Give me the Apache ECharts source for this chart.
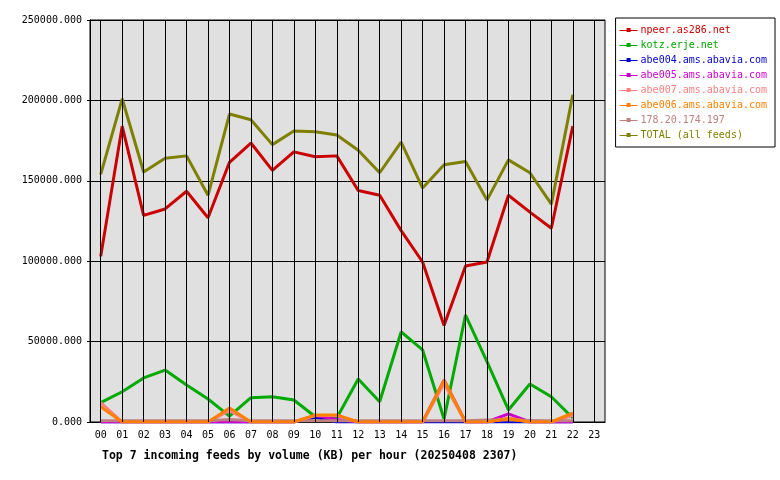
<!DOCTYPE html>
<html><head><meta charset="utf-8">
<script src="https://cdn.jsdelivr.net/npm/echarts@6/dist/echarts.min.js"></script>
<style>html,body{margin:0;background:#fff}#c{width:780px;height:480px}</style>
</head><body><div id="c"></div>
<script>
const hours = ['00','01','02','03','04','05','06','07','08','09','10','11','12','13','14','15','16','17','18','19','20','21','22','23'];
const npeer = [103000,184000,128500,132500,143500,127000,161500,173500,156500,168000,165000,165500,144000,141000,119000,99500,60000,97000,99500,141000,130500,120500,184000];
const kotz = [12000,18800,27400,32300,23000,14300,3700,15100,15700,13700,3300,2500,26700,12600,56000,44800,1900,66500,37500,7500,23600,15700,2500];
const abe004 = [0,0,0,0,0,0,0,0,0,0,3000,0,0,0,0,0,0,0,0,0,0,0,0];
const abe005 = [0,0,0,0,0,0,0,0,0,0,4000,1500,0,0,0,0,26000,0,0,5000,0,0,0];
const abe007 = [12000,0,0,0,0,0,7000,0,0,0,4000,4000,0,0,0,0,24000,0,0,2500,0,0,4000];
const abe006 = [9500,0,0,0,0,0,8700,0,0,0,4400,4400,0,0,0,0,26000,0,0,2000,0,0,5600];
const ip178 = [800,800,800,800,800,800,1500,800,800,800,800,800,800,800,800,800,800,800,1200,1200,1000,800,800];
const total = [154000,201000,155500,164000,165500,141000,191500,188000,172500,181000,180500,178500,169000,155000,174000,145500,160000,162000,138000,163000,155000,135500,203500];
const yTicks = [0,50000,100000,150000,200000,250000];

const names = ['npeer.as286.net','kotz.erje.net','abe004.ams.abavia.com','abe005.ams.abavia.com','abe007.ams.abavia.com','abe006.ams.abavia.com','178.20.174.197','TOTAL (all feeds)'];
const datas = [npeer,kotz,abe004,abe005,abe007,abe006,ip178,total];
const colors = ['#cc0000','#00aa00','#0000cc','#cc00cc','#ff8080','#ff8000','#c08080','#808000'];
const font = 'DejaVu Sans Mono';
const series = names.map((n,i)=>({
  name:n, type:'line', data:datas[i], symbol:'none', z:3+(i===5?1:0),
  lineStyle:{width:3,color:colors[i]}, itemStyle:{color:colors[i]}, animation:false
}));
series.push({type:'line',data:[],silent:true,z:2,
  markLine:{symbol:'none',silent:true,label:{show:false},animation:false,
    lineStyle:{color:'#000',width:1,type:'solid'},
    data:hours.map(h=>({xAxis:h}))}});
const chart = echarts.init(document.getElementById('c'));
chart.setOption({
  animation:false,
  backgroundColor:'#fff',
  grid:{left:90,right:175,top:20,bottom:58,show:true,backgroundColor:'#e0e0e0',borderColor:'#000',borderWidth:1},
  title:{text:'Top 7 incoming feeds by volume (KB) per hour (20250408 2307)',left:97,top:445,
    textStyle:{fontFamily:font,fontSize:11.5,fontWeight:'bold',color:'#000'}},
  legend:{orient:'vertical',right:5,top:18,padding:[6,8,6,4],itemGap:3,itemWidth:18,itemHeight:6,
    borderColor:'#000',borderWidth:1,backgroundColor:'#fff',
    icon:'path://M0,5 L7,5 L7,3 L11,3 L11,5 L18,5 L18,6 L11,6 L11,7 L7,7 L7,6 L0,6 Z',
    data:names.map((n,i)=>({name:n,textStyle:{color:colors[i]}})),
    textStyle:{fontFamily:font,fontSize:10,lineHeight:12,padding:[0,0,0,-2]}},
  xAxis:{type:'category',data:hours,boundaryGap:true,
    axisLine:{lineStyle:{color:'#000'}},axisTick:{show:false},
    axisLabel:{fontFamily:font,fontSize:10,color:'#000',margin:8},splitLine:{show:false}},
  yAxis:{type:'value',min:0,max:250000,interval:50000,
    axisLine:{show:true,lineStyle:{color:'#000'}},axisTick:{show:true,length:3,lineStyle:{color:'#000'}},
    axisLabel:{fontFamily:font,fontSize:10,color:'#000',formatter:v=>v.toFixed(3)},
    splitLine:{lineStyle:{color:'#000',width:1}}},
  series:series
});
</script></body></html>
